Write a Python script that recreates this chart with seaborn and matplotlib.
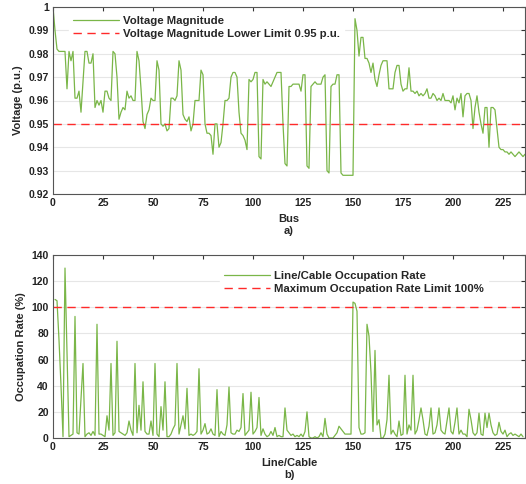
import numpy as np
import pandas as pd
import matplotlib
matplotlib.use("Agg")
import matplotlib.pyplot as plt
import seaborn as sns

# Bus voltage magnitude (p.u.), bus 0..236
voltage = [
    1.000, 0.990, 0.982, 0.981, 0.981, 0.981, 0.981, 0.965, 0.981, 0.977,
    0.981, 0.961, 0.961, 0.964, 0.955, 0.968, 0.981, 0.981, 0.976, 0.976,
    0.980, 0.957, 0.960, 0.958, 0.960, 0.955, 0.964, 0.964, 0.961, 0.960,
    0.981, 0.980, 0.970, 0.952, 0.955, 0.957, 0.956, 0.964, 0.961, 0.962,
    0.960, 0.960, 0.981, 0.977, 0.965, 0.951, 0.948, 0.954, 0.956, 0.961,
    0.960, 0.960, 0.977, 0.973, 0.950, 0.949, 0.950, 0.947, 0.948, 0.961,
    0.961, 0.960, 0.962, 0.977, 0.973, 0.954, 0.952, 0.951, 0.953, 0.947,
    0.950, 0.960, 0.960, 0.960, 0.973, 0.971, 0.950, 0.946, 0.946, 0.945,
    0.937, 0.950, 0.950, 0.940, 0.942, 0.950, 0.960, 0.960, 0.961, 0.970,
    0.972, 0.972, 0.970, 0.955, 0.946, 0.945, 0.943, 0.939, 0.969, 0.968,
    0.969, 0.972, 0.972, 0.936, 0.935, 0.969, 0.967, 0.968, 0.967, 0.966,
    0.968, 0.970, 0.972, 0.972, 0.972, 0.950, 0.933, 0.932, 0.966, 0.966,
    0.967, 0.967, 0.967, 0.967, 0.964, 0.971, 0.971, 0.932, 0.931, 0.966,
    0.967, 0.968, 0.967, 0.967, 0.967, 0.970, 0.971, 0.930, 0.929, 0.966,
    0.967, 0.967, 0.971, 0.971, 0.929, 0.928, 0.928, 0.928, 0.928, 0.928,
    0.928, 0.995, 0.990, 0.979, 0.987, 0.987, 0.978, 0.978, 0.976, 0.972,
    0.976, 0.969, 0.966, 0.971, 0.975, 0.977, 0.977, 0.977, 0.965, 0.965,
    0.965, 0.972, 0.975, 0.975, 0.967, 0.964, 0.965, 0.965, 0.974, 0.964,
    0.964, 0.963, 0.964, 0.962, 0.963, 0.962, 0.963, 0.965, 0.961, 0.961,
    0.963, 0.962, 0.960, 0.961, 0.960, 0.963, 0.960, 0.960, 0.960, 0.959,
    0.962, 0.956, 0.961, 0.959, 0.963, 0.953, 0.962, 0.963, 0.963, 0.960,
    0.948, 0.957, 0.962, 0.955, 0.950, 0.946, 0.957, 0.957, 0.940, 0.957,
    0.957, 0.956, 0.948, 0.940, 0.939, 0.939, 0.938, 0.938, 0.937, 0.938,
    0.937, 0.936, 0.937, 0.938, 0.937, 0.936, 0.937,
]

# Line/cable occupation rate (%), line 1..235
occupation = [
    106, 105, 75, 40, 1, 130, 65, 1, 2, 3,
    93, 4, 3, 30, 57, 1, 3, 4, 2, 5,
    2, 87, 3, 3, 2, 1, 17, 6, 57, 2,
    4, 74, 5, 4, 3, 2, 4, 13, 6, 2,
    57, 4, 25, 6, 43, 5, 3, 3, 13, 2,
    57, 3, 1, 24, 6, 43, 1, 1, 3, 7,
    10, 57, 3, 10, 17, 7, 38, 2, 3, 2,
    3, 5, 53, 3, 6, 11, 3, 4, 7, 3,
    2, 37, 1, 5, 3, 2, 10, 39, 4, 3,
    3, 6, 5, 8, 34, 2, 4, 6, 35, 3,
    5, 8, 31, 2, 7, 3, 1, 2, 5, 2,
    8, 1, 2, 1, 1, 23, 6, 4, 2, 3,
    1, 2, 1, 3, 1, 5, 20, 1, 0, 0,
    1, 0, 1, 4, 1, 15, 3, 0, 0, 0,
    2, 4, 9, 7, 5, 3, 3, 3, 3, 104,
    103, 97, 8, 3, 3, 4, 87, 78, 50, 5,
    67, 10, 14, 0, 0, 3, 14, 48, 3, 6,
    3, 1, 13, 2, 3, 48, 3, 10, 6, 48,
    3, 6, 14, 23, 14, 3, 2, 9, 23, 3,
    4, 10, 23, 6, 4, 3, 13, 23, 5, 3,
    12, 23, 3, 6, 3, 3, 1, 22, 14, 4,
    2, 4, 19, 3, 2, 19, 8, 19, 10, 4,
    2, 3, 12, 5, 3, 6, 1, 3, 4, 2,
    3, 2, 1, 3, 1,
]

v_limit = 0.95
occ_limit = 100
x_ticks = [0, 25, 50, 75, 100, 125, 150, 175, 200, 225]

df_v = pd.DataFrame({"bus": np.arange(len(voltage)), "voltage": voltage})
df_o = pd.DataFrame({"line": np.arange(1, len(occupation) + 1), "rate": occupation})

sns.set_style("white")
plt.rcParams["font.family"] = ["Liberation Sans", "DejaVu Sans"]
plt.rcParams["font.weight"] = "bold"

green = "#7ab648"
red = "#ff2a2a"

fig = plt.figure(figsize=(5.26, 4.84), dpi=100)
ax1 = fig.add_axes([53 / 526, 1 - 194 / 484, 472 / 526, 187 / 484])
ax2 = fig.add_axes([53 / 526, 1 - 438 / 484, 472 / 526, 183 / 484])

sns.lineplot(data=df_v, x="bus", y="voltage", ax=ax1, color=green, lw=0.9,
             label="Voltage Magnitude")
ax1.axhline(v_limit, color=red, lw=1, dashes=(6, 4),
            label="Voltage Magnitude Lower Limit 0.95 p.u.")
ax1.set_xlim(0, 236)
ax1.set_ylim(0.92, 1.0)
ax1.set_yticks(np.round(np.arange(0.92, 1.001, 0.01), 2))
ax1.set_yticklabels(["0.92", "0.93", "0.94", "0.95", "0.96", "0.97", "0.98", "0.99", "1"])
ax1.set_xlabel("Bus\na)", fontsize=8, fontweight="bold", labelpad=4, linespacing=1.25)
ax1.set_ylabel("Voltage (p.u.)", fontsize=8, fontweight="bold")

sns.lineplot(data=df_o, x="line", y="rate", ax=ax2, color=green, lw=0.9,
             label="Line/Cable Occupation Rate")
ax2.axhline(occ_limit, color=red, lw=1, dashes=(6, 4),
            label="Maximum Occupation Rate Limit 100%")
ax2.set_xlim(0, 236)
ax2.set_ylim(0, 140)
ax2.set_yticks(range(0, 141, 20))
ax2.set_xlabel("Line/Cable\nb)", fontsize=8, fontweight="bold", labelpad=4, linespacing=1.3)
ax2.set_ylabel("Occupation Rate (%)", fontsize=8, fontweight="bold")

for ax in (ax1, ax2):
    ax.set_xticks(x_ticks)
    ax.grid(axis="y", color="#e6e6e6", lw=0.8)
    ax.set_axisbelow(True)
    ax.tick_params(direction="in", top=True, right=True, length=3,
                   labelsize=7.5, color="#333333", pad=3)
    for lab in ax.get_xticklabels() + ax.get_yticklabels():
        lab.set_fontweight("bold")
        lab.set_color("#222222")
    for s in ax.spines.values():
        s.set_color("#555555")
        s.set_linewidth(0.8)

leg1 = ax1.legend(loc="upper left", bbox_to_anchor=(0.033, 0.975), frameon=True,
                  fontsize=8.2, handlelength=4, borderaxespad=0, labelspacing=0.25,
                  handletextpad=0.35, edgecolor="white", fancybox=False, framealpha=1)
leg2 = ax2.legend(loc="upper left", bbox_to_anchor=(0.353, 0.935), frameon=True,
                  fontsize=8.2, handlelength=4, borderaxespad=0, labelspacing=0.25,
                  handletextpad=0.35, edgecolor="white", fancybox=False, framealpha=1)
for leg in (leg1, leg2):
    for t in leg.get_texts():
        t.set_fontweight("bold")

fig.savefig("out.png", dpi=100)
